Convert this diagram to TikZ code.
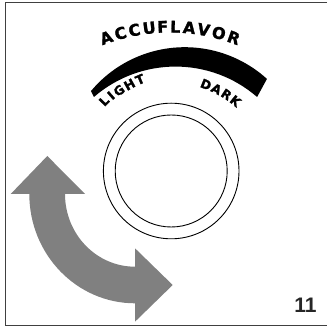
\documentclass[tikz,border=0pt]{standalone}
\usepackage{fontspec}
\setmainfont{DejaVu Sans}
\newfontfamily\heavyfont[FakeBold=1.6]{DejaVu Sans}
\newfontfamily\numfont{Liberation Sans}
\begin{document}
\begin{tikzpicture}[x=1pt,y=1pt,
  frameline/.style={draw=black!75, line width=1.3pt},
  knob/.style={draw=black, line width=0.9pt},
  bigletter/.style={font=\heavyfont\bfseries\fontsize{16}{16}\selectfont, inner sep=0pt, anchor=base},
  smallletter/.style={font=\heavyfont\bfseries\fontsize{12.5}{12.5}\selectfont, inner sep=0pt},
  arrowfill/.style={fill=black!50}]
\useasboundingbox (0,0) rectangle (327,328);
% frame
\draw[frameline] (327,325.3) -- (5.7,325.3) -- (5.7,2.3) -- (327,2.3);
% knob
\draw[knob] (171.2,157) circle[radius=67.8];
\draw[knob] (171.2,157) circle[radius=56];
% black scale band
\fill (184.8,158.5) ++(140.1:122.3) arc[start angle=140.1, end angle=47.8, radius=122.3]
  -- (257.1,231) arc[start angle=49.1, end angle=130.9, radius=124.6] -- cycle;
% ACCUFLAVOR
\foreach \ch/\ang [count=\i] in {A/109.6, C/105.1, C/100.8, U/96.3, F/92.2, L/88.4, A/84.2, V/79.8, O/75.1, R/70.4}
  \node[bigletter, rotate=\ang-90] (acc\i) at ([shift={(\ang:184.3)}]170,111.2) {\ch};
% LIGHT
\foreach \ch/\x/\y/\r [count=\i] in {L/104/227/46, I/111/232.5/41, G/119/237.5/35, H/129.5/243.5/29, T/140/248.5/23}
  \node[smallletter, rotate=\r] (lt\i) at (\x,\y) {\ch};
% DARK
\foreach \ch/\x/\y/\r [count=\i] in {D/206/243.5/-22, A/216.5/239/-27, R/226.5/233.5/-33, K/235.5/227/-39}
  \node[smallletter, rotate=\r] (dk\i) at (\x,\y) {\ch};
% gray double arrow
\fill[arrowfill] (10.7,134) -- (47.3,172) -- (85,134) -- (65,134)
  arc[start angle=180, end angle=270, x radius=70, y radius=72.7]
  -- (135,79.7) -- (172.7,43) -- (135,6.3) -- (135,24.7)
  arc[start angle=270, end angle=180, x radius=105.7, y radius=109.3] -- cycle;
% page number
\node[font=\numfont\bfseries\fontsize{21}{21}\selectfont, anchor=base, text=black!85, inner sep=0pt] (num) at (305.5,15) {11};
\end{tikzpicture}
\end{document}
